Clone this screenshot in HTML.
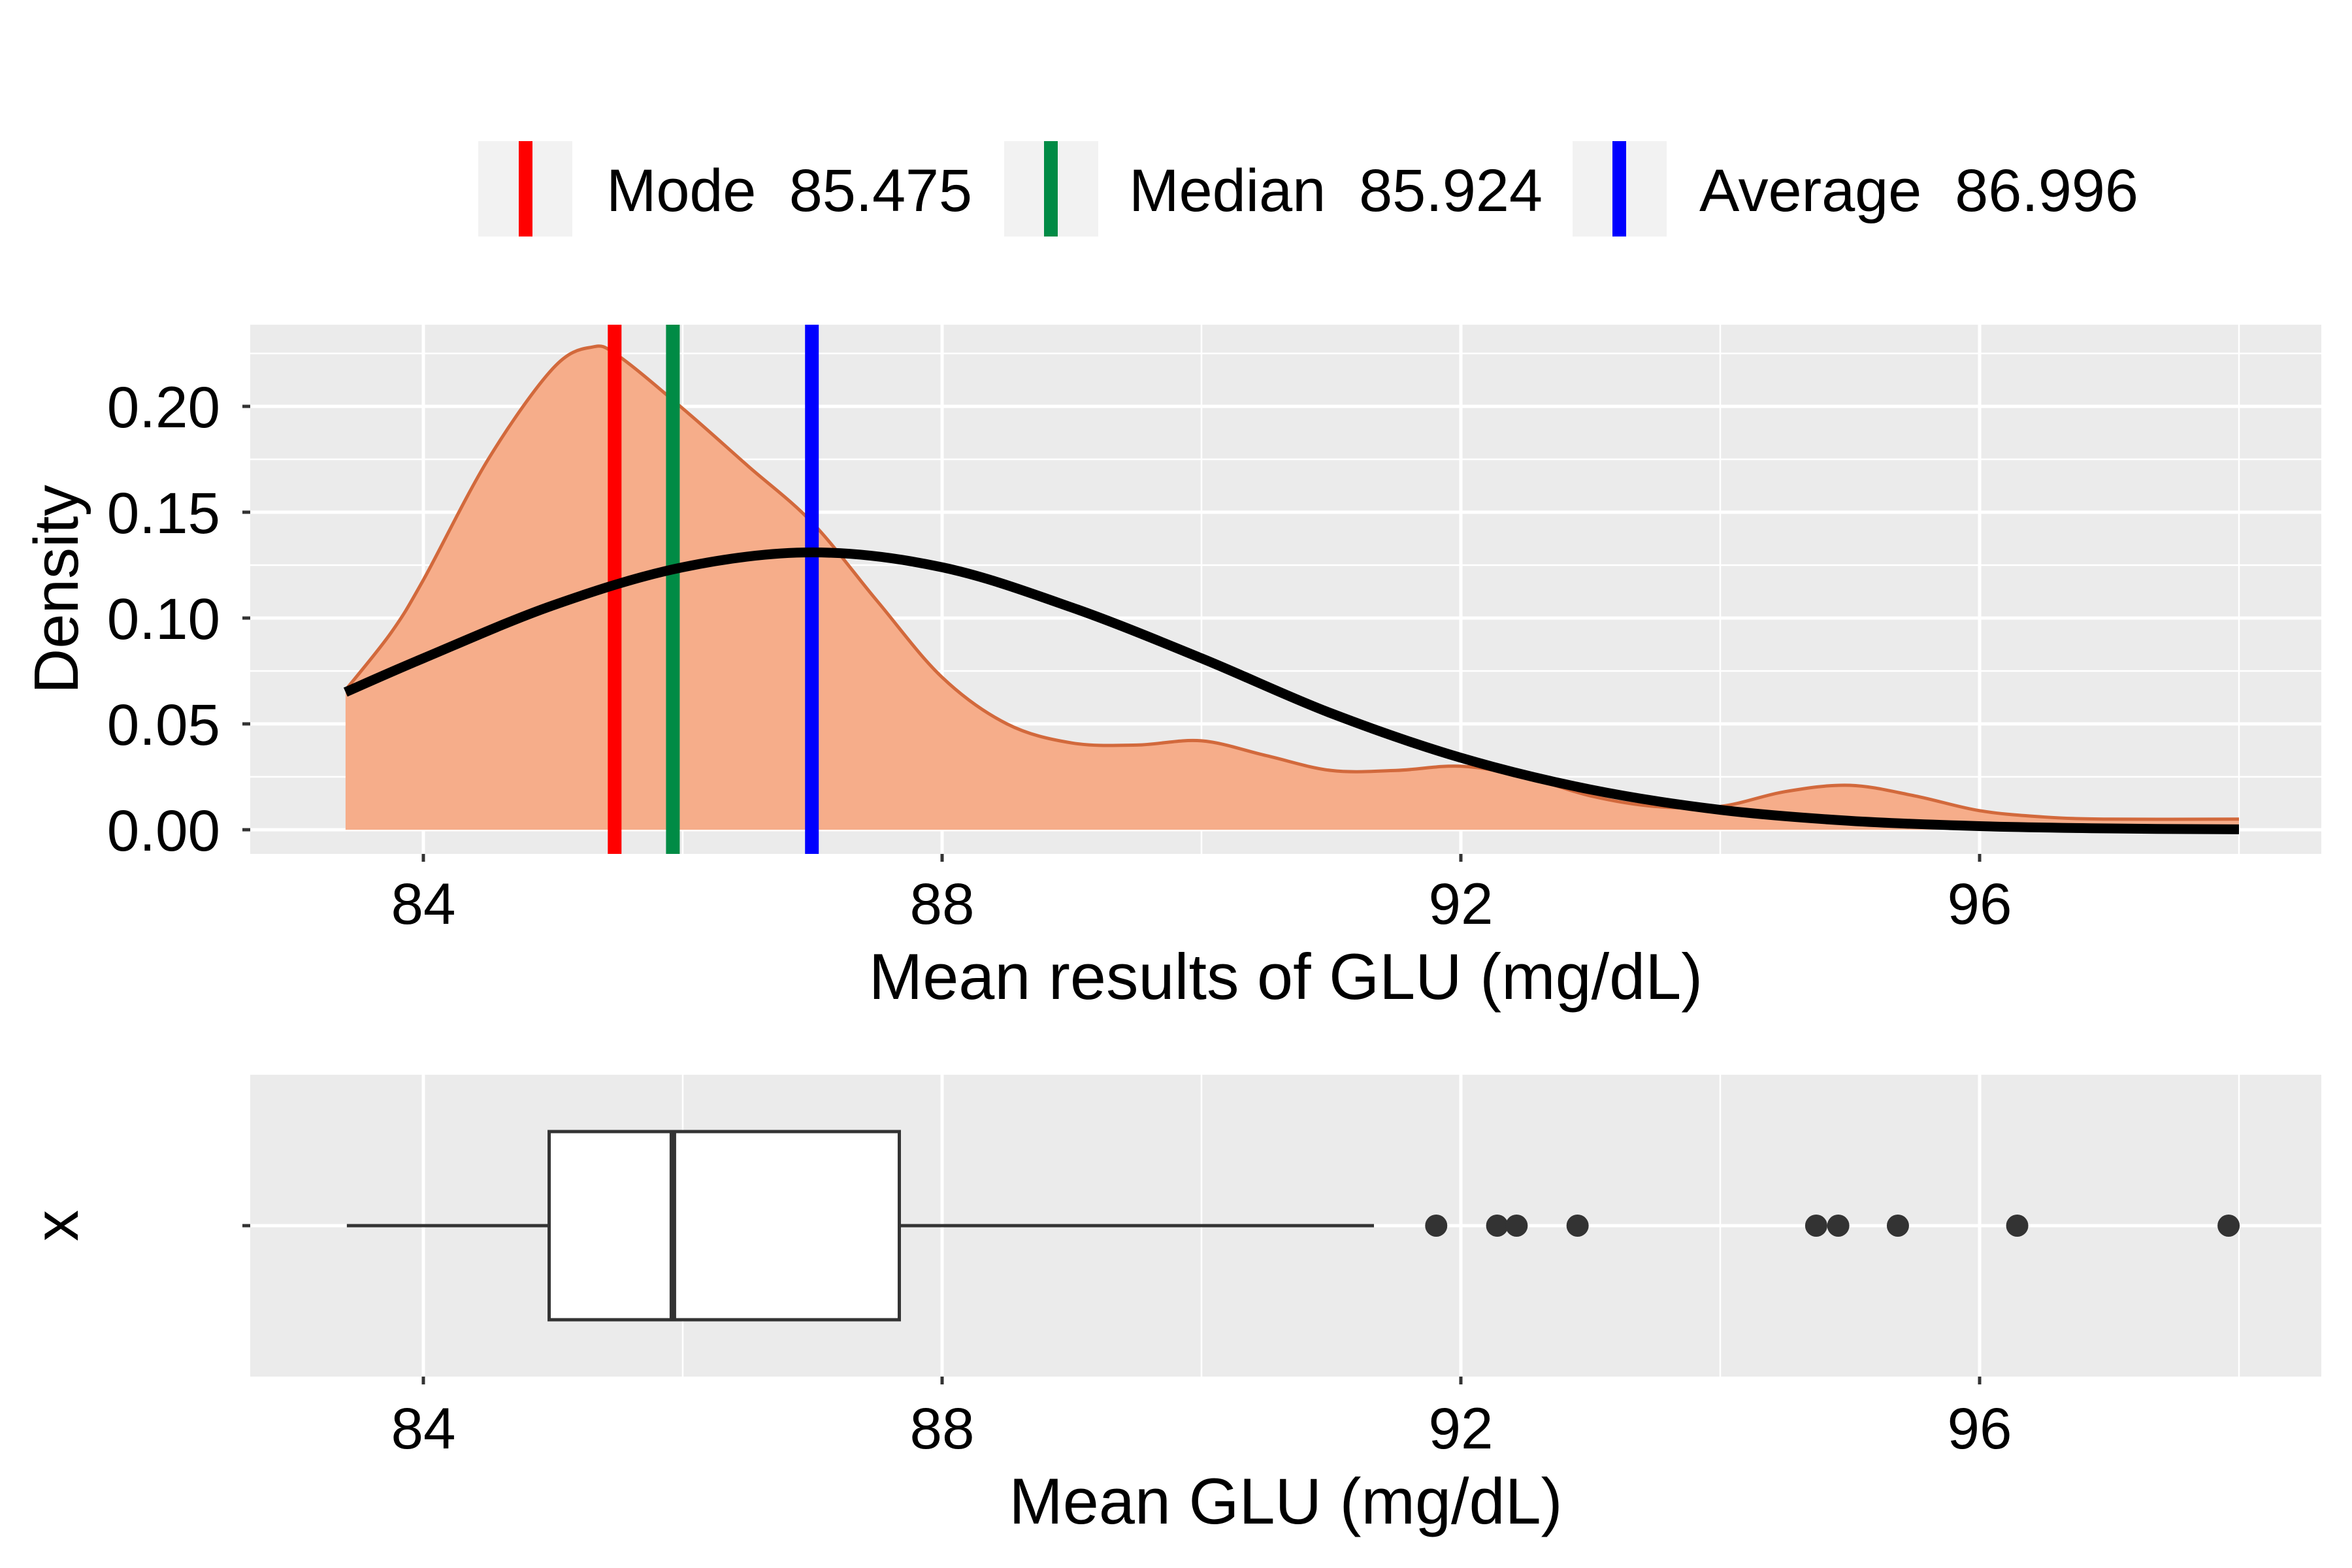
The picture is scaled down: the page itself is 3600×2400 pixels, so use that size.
<!DOCTYPE html>
<html><head><meta charset="utf-8"><style>
html,body{margin:0;padding:0;background:#fff;}
svg{display:block;font-family:"Liberation Sans",Arial,sans-serif;}
text{white-space:pre;}
</style></head><body>
<svg id="chart" width="3600" height="2400" viewBox="0 0 3600 2400" xmlns="http://www.w3.org/2000/svg">
<g>
  <rect x="732" y="216" width="144" height="146" fill="#f2f2f2"/>
  <rect x="794" y="216" width="21" height="146" fill="#ff0000"/>
  <text x="928" y="323" font-size="92" textLength="560">Mode  85.475</text>
  <rect x="1537" y="216" width="144" height="146" fill="#f2f2f2"/>
  <rect x="1598" y="216" width="21" height="146" fill="#008B45"/>
  <text x="1728" y="323" font-size="92" textLength="633">Median  85.924</text>
  <rect x="2407" y="216" width="144" height="146" fill="#f2f2f2"/>
  <rect x="2468" y="216" width="21" height="146" fill="#0000ff"/>
  <text x="2601" y="323" font-size="92" textLength="672">Average  86.996</text>
</g>
<g id="topPanel"></g>
<g id="botPanel"></g>
</svg>
<script>
const kdeX = [83.4,83.75,84,84.5,85,85.3,85.5,86,86.5,87,87.5,88,88.5,89,89.5,90,90.5,91,91.5,92,92.5,93,93.5,94,94.5,95,95.5,96,96.5,97,98];
const kdeY = [0.066,0.093,0.118,0.175,0.218,0.228,0.224,0.199,0.172,0.145,0.108,0.072,0.050,0.041,0.040,0.042,0.035,0.028,0.028,0.030,0.025,0.016,0.011,0.011,0.018,0.021,0.016,0.009,0.006,0.005,0.005];
const normX = [83.4,84,85,86,87,88,89,90,91,92,93,94,95,96,97,98];
const normY = [0.065,0.081,0.106,0.124,0.131,0.124,0.105,0.081,0.055,0.034,0.019,0.0094,0.0042,0.0017,0.0006,0.0002];
const statNames = ["mode","median","average"];
const statValues = [85.475,85.924,86.996];
const statColors = ["#ff0000","#008B45","#0000ff"];
const xTicks = [84,88,92,96];
const xMinor = [86,90,94,98];
const yTicks = [0,0.05,0.10,0.15,0.20];
const yTickLabels = ["0.00","0.05","0.10","0.15","0.20"];
const boxStats = [83.41,84.97,85.924,87.67,91.33];
const outliers = [91.81,92.28,92.43,92.90,94.74,94.91,95.37,96.29,97.92];

const NS="http://www.w3.org/2000/svg";
function mk(parent,tag,attrs){const e=document.createElementNS(NS,tag);for(const k in attrs)e.setAttribute(k,attrs[k]);parent.appendChild(e);return e;}
const X = v => 648 + (v-84)*198.5;
const Y = d => 1270 - d*3240;
const L=383,R=3553;

const tp=document.getElementById('topPanel');
const bg=mk(tp,'rect',{x:L,y:497,width:R-L,height:810,fill:'#ebebeb'});


const minorY=[0.025,0.075,0.125,0.175,0.225];
minorY.forEach(m=>{const g=mk(tp,'line',{x1:L,x2:R,y1:Y(m),y2:Y(m),stroke:'#fff','stroke-width':2.5});

});
xMinor.forEach(v=>{const g=mk(tp,'line',{x1:X(v),x2:X(v),y1:497,y2:1307,stroke:'#fff','stroke-width':2.5});

});
yTicks.forEach((t,i)=>{
  const g=mk(tp,'line',{x1:L,x2:R,y1:Y(t),y2:Y(t),stroke:'#fff','stroke-width':5});
  
  
  const tk=mk(tp,'line',{x1:L-12,x2:L,y1:Y(t),y2:Y(t),stroke:'#333','stroke-width':5});
  
  
  const tx=mk(tp,'text',{x:337,y:Y(t)+32,'font-size':89,'text-anchor':'end',fill:'#000'});tx.textContent=yTickLabels[i];
  
  
});
xTicks.forEach(t=>{
  const g=mk(tp,'line',{x1:X(t),x2:X(t),y1:497,y2:1307,stroke:'#fff','stroke-width':5});
  
  
  const tk=mk(tp,'line',{x1:X(t),x2:X(t),y1:1307,y2:1319,stroke:'#333','stroke-width':5});
  
  
  const tx=mk(tp,'text',{x:X(t),y:1414,'font-size':89,'text-anchor':'middle',fill:'#000'});tx.textContent=t;
  
  
});
function smooth(xs,ys){
  const p=xs.map((x,i)=>[X(x),Y(ys[i])]);let d='M'+p[0][0]+','+p[0][1];
  for(let i=0;i<p.length-1;i++){const p0=p[Math.max(0,i-1)],p1=p[i],p2=p[i+1],p3=p[Math.min(p.length-1,i+2)];
    d+=` C${p1[0]+(p2[0]-p0[0])/6},${p1[1]+(p2[1]-p0[1])/6} ${p2[0]-(p3[0]-p1[0])/6},${p2[1]-(p3[1]-p1[1])/6} ${p2[0]},${p2[1]}`;}
  return d;}
const kd=smooth(kdeX,kdeY);
const area=mk(tp,'path',{d:kd+` L${X(kdeX[kdeX.length-1])},${Y(0)} L${X(kdeX[0])},${Y(0)} Z`,fill:'#f6ad8a'});


const kl=mk(tp,'path',{d:kd,fill:'none',stroke:'#d2693c','stroke-width':5});


statValues.forEach((v,i)=>{const l=mk(tp,'line',{x1:X(v),x2:X(v),y1:497,y2:1307,stroke:statColors[i],'stroke-width':21});
  
  });
const nl=mk(tp,'path',{d:smooth(normX,normY),fill:'none',stroke:'#000','stroke-width':15});


const yt=mk(tp,'text',{x:0,y:0,'font-size':96,'text-anchor':'middle',transform:'translate(119,902) rotate(-90)'});
yt.textContent='Density';


const xt=mk(tp,'text',{x:1968,y:1529,'font-size':99,'text-anchor':'middle'});
xt.textContent='Mean results of GLU (mg/dL)';



const bp=document.getElementById('botPanel');
const B0=1645,B1=2107,BC=1876;
const bb=mk(bp,'rect',{x:L,y:B0,width:R-L,height:B1-B0,fill:'#ebebeb'});


xMinor.forEach(v=>{const g=mk(bp,'line',{x1:X(v),x2:X(v),y1:B0,y2:B1,stroke:'#fff','stroke-width':2.5});

});
xTicks.forEach(t=>{
  const g=mk(bp,'line',{x1:X(t),x2:X(t),y1:B0,y2:B1,stroke:'#fff','stroke-width':5});
  
  
  const tk=mk(bp,'line',{x1:X(t),x2:X(t),y1:B1,y2:B1+12,stroke:'#333','stroke-width':5});
  
  
  const tx=mk(bp,'text',{x:X(t),y:2217,'font-size':89,'text-anchor':'middle'});tx.textContent=t;
  
  
});
const hg=mk(bp,'line',{x1:L,x2:R,y1:BC,y2:BC,stroke:'#fff','stroke-width':5});


const ytk=mk(bp,'line',{x1:L-12,x2:L,y1:BC,y2:BC,stroke:'#333','stroke-width':5});


const w1=mk(bp,'line',{x1:X(boxStats[0]),x2:X(boxStats[1]),y1:BC,y2:BC,stroke:'#333','stroke-width':5});


const w2=mk(bp,'line',{x1:X(boxStats[3]),x2:X(boxStats[4]),y1:BC,y2:BC,stroke:'#333','stroke-width':5});


const bx=mk(bp,'rect',{x:X(boxStats[1]),y:1732,width:X(boxStats[3])-X(boxStats[1]),height:288,fill:'#fff',stroke:'#333','stroke-width':5});


const md=mk(bp,'line',{x1:X(boxStats[2]),x2:X(boxStats[2]),y1:1732,y2:2020,stroke:'#333','stroke-width':10});


outliers.forEach(v=>{const c=mk(bp,'circle',{cx:X(v),cy:BC,r:17,fill:'#333'});

});
const byt=mk(bp,'text',{x:0,y:0,'font-size':96,'text-anchor':'middle',transform:'translate(119,1876) rotate(-90)'});
byt.textContent='x';


const bxt=mk(bp,'text',{x:1968,y:2332,'font-size':99,'text-anchor':'middle'});
bxt.textContent='Mean GLU (mg/dL)';


</script>
</body></html>
